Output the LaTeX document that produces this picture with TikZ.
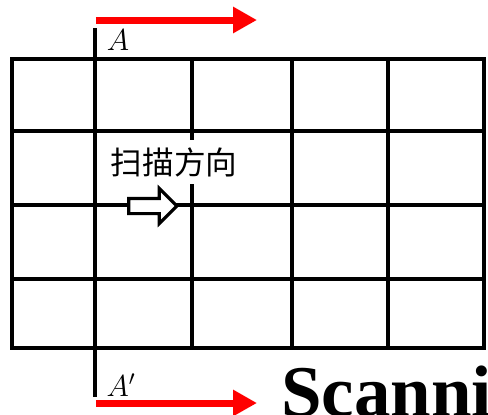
\documentclass[tikz,border=0pt]{standalone}
\usepackage{fontspec}
\usepackage{tikz}
\usetikzlibrary{arrows.meta}
\usetikzlibrary{shapes.arrows}
\newfontfamily\cjk{Noto Sans CJK SC}
\newfontfamily\scanfont{Liberation Serif}
\begin{document}
\begin{tikzpicture}[x=0.02cm,y=-0.02cm]
\tikzset{
gridline/.style = {line width=2.4pt},
redarrow/.style = {draw=red,line width=0.14cm,-{Triangle[length=0.48cm,width=0.5cm]}},
marker/.style = {inner sep=0pt,font=\fontsize{17pt}{17pt}\selectfont},
dirlabel/.style = {fill=white,inner xsep=0.1cm,inner ysep=0.15cm,font=\cjk\fontsize{18pt}{18pt}\selectfont},
hollow/.style = {single arrow,draw,fill=white,line width=1.8pt,inner sep=0.12cm,minimum height=0.96cm,minimum width=0.7cm,single arrow head extend=0.2cm},
}
\useasboundingbox (0,0) rectangle (488,414);
\clip (0,0) rectangle (488,414);
    %
% Grid.
\coordinate (nw) at (12,59);
\coordinate (se) at (484,348);
\draw[gridline] (nw) rectangle (se)
(12,131) -- (484,131)
(12,205) -- (484,205)
(12,279) -- (484,279)
(192,59) -- (192,348)
(292,59) -- (292,348)
(388,59) -- (388,348);
% Section line A - A'.
\coordinate (atop) at (95,28);
\coordinate (abot) at (95,397);
\draw[gridline] (atop) -- (abot);
\node[marker] (A) at (118,40) {$A$};
\node[marker] (Ap) at (121,385) {$A'$};
    %
% Red scan arrows.
\coordinate (t1) at (96,20);
\coordinate (t2) at (257,20);
\coordinate (b1) at (96,403);
\coordinate (b2) at (257,403);
\draw[redarrow] (t1) -- (t2);
\draw[redarrow] (b1) -- (b2);
    %
\node[dirlabel] (dir) at (174,162) {扫描方向};
\node[hollow] (scan) at (149,206) {};
\node[anchor=base west,inner sep=0pt,font=\scanfont\bfseries\fontsize{41.5pt}{41.5pt}\selectfont] (title) at (281,416) {Scanni};
\end{tikzpicture}
\end{document}
